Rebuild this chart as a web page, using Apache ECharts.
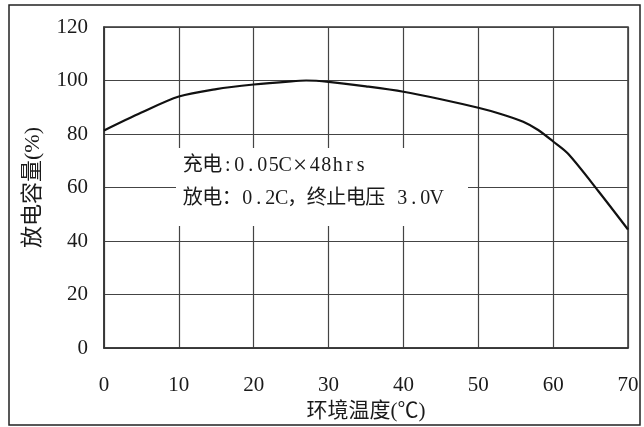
<!DOCTYPE html>
<html><head><meta charset="utf-8">
<script src="https://cdn.jsdelivr.net/npm/echarts@6/dist/echarts.min.js"></script>
<style>html,body{margin:0;padding:0;background:#fff}#c{width:644px;height:427px}</style>
</head><body><div id="c"></div>
<script>
const temps = [0, 5, 10, 15, 20, 25, 27, 30, 35, 40, 45, 50, 53, 56, 58, 60, 62, 66, 70];
const capacity = [81.3, 88, 94, 96.8, 98.5, 99.7, 100, 99.5, 97.8, 95.8, 93, 89.8, 87.5, 84.6, 81.5, 77.2, 72.6, 58.8, 44.3];
const xTicks = [0, 10, 20, 30, 40, 50, 60, 70];
const yTicks = [0, 20, 40, 60, 80, 100, 120];
const note1 = '充电:0.05C×48hrs';
const note2 = '放电：0.2C，终止电压 3.0V';

const FONT = '"Liberation Serif", "Noto Sans CJK SC", serif';
// build rich text where each character gets a fixed-width cell (like SimSun half/full width)
function cells(s) {
  return Array.from(s).map(ch => {
    if (ch === '×') return '{x|' + ch + '}';
    const full = /[\u3000-\u9fff\uff00-\uffef]/.test(ch);
    return '{' + (full ? 'f' : 'h') + '|' + ch + '}';
  }).join('');
}
const richStyle = {
  f: {width: 19.5, align: 'center', fontSize: 20, fontFamily: FONT, fill: '#1a1a1a'},
  h: {width: 11.5, align: 'center', fontSize: 20, fontFamily: FONT, fill: '#1a1a1a'},
  x: {width: 18, align: 'center', fontSize: 25, fontFamily: '"Liberation Serif", serif', fill: '#1a1a1a'}
};

const chart = echarts.init(document.getElementById('c'), null, {renderer: 'canvas'});
chart.setOption({
  animation: false,
  backgroundColor: '#fff',
  grid: {left: 104, right: 16, top: 27, bottom: 79, show: true, borderColor: '#333', borderWidth: 1.5},
  xAxis: {
    type: 'value', min: 0, max: 70, interval: 10,
    name: '环境温度(℃)', nameLocation: 'middle', nameGap: 52,
    nameTextStyle: {fontFamily: FONT, fontSize: 21, color: '#1a1a1a'},
    axisLine: {show: true, lineStyle: {color: '#333', width: 1.5}},
    axisTick: {show: false},
    axisLabel: {fontFamily: FONT, fontSize: 21, color: '#1a1a1a', margin: 27,
      formatter: v => xTicks.includes(v) ? String(v) : ''},
    splitLine: {show: true, lineStyle: {color: '#444', width: 1.2}}
  },
  yAxis: {
    type: 'value', min: 0, max: 120, interval: 20,
    name: '放电容量(%)', nameLocation: 'middle', nameGap: 60, nameRotate: 90,
    nameTextStyle: {fontFamily: FONT, fontSize: 22, color: '#1a1a1a'},
    axisLine: {show: true, lineStyle: {color: '#333', width: 1.5}},
    axisTick: {show: false},
    axisLabel: {fontFamily: FONT, fontSize: 21, color: '#1a1a1a', margin: 16,
      formatter: v => yTicks.includes(v) ? String(v) : ''},
    splitLine: {show: true, lineStyle: {color: '#444', width: 1.2}}
  },
  series: [{
    type: 'line', data: temps.map((t, i) => [t, capacity[i]]),
    smooth: 0.3, showSymbol: false, symbol: 'none',
    lineStyle: {color: '#111', width: 2.2}, z: 5
  }],
  graphic: [
    {type: 'rect', shape: {x: 9, y: 5, width: 631, height: 420},
     style: {fill: 'none', stroke: '#222', lineWidth: 1.5}, z: 1, silent: true},
    {type: 'rect', shape: {x: 176, y: 148, width: 292, height: 78},
     style: {fill: '#fff', stroke: 'none'}, z: 10, silent: true},
    {type: 'text', x: 183, y: 166, z: 11,
     style: {text: cells(note1), rich: richStyle, verticalAlign: 'middle'}},
    {type: 'text', x: 183, y: 199, z: 11,
     style: {text: cells(note2), rich: richStyle, verticalAlign: 'middle'}}
  ]
});
</script></body></html>
